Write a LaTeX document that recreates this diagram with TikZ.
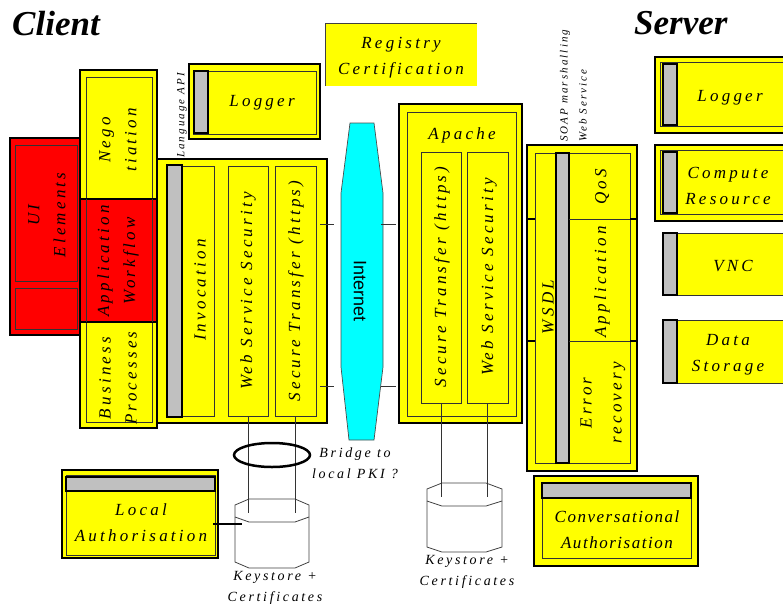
\documentclass[tikz,border=0pt]{standalone}
\usepackage{fontspec}
\setmainfont{Liberation Serif}
\newfontfamily\spf[LetterSpace=19]{Liberation Serif}
\newfontfamily\spn[LetterSpace=9]{Liberation Serif}
\newfontfamily\sansf{Liberation Sans}
\usetikzlibrary{fit,shapes.geometric}
\definecolor{barg}{HTML}{C0C0C0}
\definecolor{cy}{RGB}{0,255,255}
\definecolor{yl}{RGB}{255,255,0}
\definecolor{rd}{RGB}{255,0,0}
\tikzset{
  yb/.style={draw=black, fill=yl, line width=2.5pt, inner sep=0pt, outer sep=0pt},
  rb/.style={draw=black, fill=rd, line width=2.5pt, inner sep=0pt, outer sep=0pt},
  tb/.style={draw=black!80, line width=0.7pt, inner sep=0pt, outer sep=0pt},
  tyb/.style={tb, fill=yl},
  gb/.style={draw=black, fill=barg, line width=2pt, inner sep=0pt, outer sep=0pt},
  lbl/.style={font=\spf\itshape\fontsize{17}{26}\selectfont, align=center, inner sep=0pt},
  nlbl/.style={font=\spn\itshape\fontsize{17}{26}\selectfont, align=center, inner sep=0pt},
  slbl/.style={font=\spf\itshape\fontsize{14}{21}\selectfont, align=center, inner sep=0pt},
  tiny/.style={font=\spf\itshape\fontsize{11}{12}\selectfont, inner sep=0pt},
  ttl/.style={font=\bfseries\itshape\fontsize{35}{38}\selectfont, inner sep=0pt},
  thinln/.style={draw=black!80, line width=0.7pt},
  ksln/.style={draw=black!75, line width=0.8pt},
}
\begin{document}
\begin{tikzpicture}[x=1pt,y=-1pt]
\useasboundingbox (0,0) rectangle (783,608);
\clip (0,0) rectangle (783,608);

% titles
\node[ttl, anchor=base west] (tclient) at (12,35) {Client};
\node[ttl, anchor=base west] (tserver) at (634,34) {Server};

% Registry Certification
\node[fill=yl, inner sep=0pt, outer sep=0pt, fit={(325,23)(477,86)}] (reg) {};
\draw[line width=1pt, black!75] (reg.south west) -- (reg.north west) -- (reg.north east);
\node[lbl] (regt) at (401,58) {Registry\\Certification};

% Client logger
\node[yb, fit={(189,64)(320,139)}] (clog) {};
\node[tb, fit={(193,71)(316,134)}] (clogin) {};
\node[gb, fit={(194,71)(208,133)}] (clogbar) {};
\node[lbl] (clogt) at (262,103) {Logger};
\node[tiny, rotate=90, anchor=west] (langapi) at (182,158) {Language API};

% UI elements
\node[rb, fit={(10,138)(80,335)}] (ui) {};
\node[tb, fit={(15,145)(77,281)}] (uiin1) {};
\node[tb, fit={(15,288)(77,329)}] (uiin2) {};
\node[lbl, rotate=90] (uit) at (47,215) {UI\\Elements};

% left column
\node[yb, fit={(80,70)(157,428)}] (lcol) {};
\node[tb, fit={(86,77)(152,422)}] (lcolin) {};
\node[rb, fit={(80,199)(157,322)}] (awf) {};
\draw[thinln] (lcolin.west |- awf.north) -- (lcolin.west |- awf.south);
\draw[thinln] (lcolin.east |- awf.north) -- (lcolin.east |- awf.south);
\node[lbl, rotate=90] (negot) at (118,140) {Nego\\tiation};
\node[lbl, rotate=90] (awft) at (118,261) {Application\\Workflow};
\node[lbl, rotate=90] (bpt) at (118,378) {Business\\Processes};

% client main
\node[yb, fit={(157,159)(327,423)}] (cmain) {};
\node[tb, fit={(182,166)(214,416)}] (inv) {};
\node[tb, fit={(228,166)(268,416)}] (cwss) {};
\node[tb, fit={(275,166)(316,416)}] (cst) {};
\node[gb, fit={(167,165)(182,417)}] (cbar) {};
\node[lbl, rotate=90] (invt) at (200,290) {Invocation};
\node[lbl, rotate=90] (cwsst) at (248,291) {Web Service Security};
\node[lbl, rotate=90] (cstt) at (296,291) {Secure Transfer (https)};

% Internet
\draw[fill=cy, draw=black!70, line width=0.7pt] (350,123) -- (374,123) -- (383,193) -- (383,367) -- (374,440) -- (349,440) -- (341,367) -- (341,193) -- cycle;
\node[rotate=-90, font=\sansf\fontsize{18}{20}\selectfont, inner sep=0pt] (inet) at (360,291) {Internet};
\coordinate (t1a) at (320,224); \coordinate (t1b) at (334,224);
\coordinate (t2a) at (320,386); \coordinate (t2b) at (334,386);
\coordinate (t3a) at (381,224); \coordinate (t3b) at (396,224);
\coordinate (t4a) at (381,386); \coordinate (t4b) at (396,386);
\draw[thinln] (t1a) -- (t1b); \draw[thinln] (t2a) -- (t2b);
\draw[thinln] (t3a) -- (t3b); \draw[thinln] (t4a) -- (t4b);

% Apache
\node[yb, fit={(399,104)(522,423)}] (apache) {};
\node[tb, fit={(407,112)(516,416)}] (apin) {};
\node[tb, fit={(421,152)(461,403)}] (ast) {};
\node[tb, fit={(467,152)(508,403)}] (awss) {};
\node[lbl] (apt) at (462,135) {Apache};
\node[lbl, rotate=90] (astt) at (442,277) {Secure Transfer (https)};
\node[lbl, rotate=90] (awsst) at (489,277) {Web Service Security};

% WSDL
\node[yb, fit={(527,145)(637,471)}] (wsdl) {};
\node[tb, fit={(535,153)(630,463)}] (wsdlin) {};
\node[gb, fit={(556,153)(569,463)}] (wbar) {};
\draw[thinln] (569,219) -- (630,219);
\draw[thinln] (569,341) -- (630,341);
\draw[line width=2.5pt] (527,219) -- (535,219);
\draw[line width=2.5pt] (630,219) -- (637,219);
\draw[line width=2.5pt] (527,341) -- (535,341);
\draw[line width=2.5pt] (630,341) -- (637,341);
\node[lbl, rotate=90] (wsdlt) at (548,307) {WSDL};
\node[lbl, rotate=90] (qost) at (602,187) {QoS};
\node[lbl, rotate=90] (sappt) at (602,282) {Application};
\node[lbl, rotate=90, font=\spf\itshape\fontsize{17}{30}\selectfont] (errt) at (603,403) {Error\\recovery};
\node[tiny, rotate=90, anchor=west] (soap1) at (565,142) {SOAP marshalling};
\node[tiny, rotate=90, anchor=west] (soap2) at (583,142) {Web Service};

% Server right column
\node[yb, fit={(655,57)(800,133)}] (slog) {};
\node[tb, fit={(660,62)(800,126)}] (slogin) {};
\node[gb, fit={(663,64)(677,125)}] (slogbar) {};
\node[lbl] (slogt) at (730,98) {Logger};

\node[yb, fit={(655,145)(800,221)}] (comp) {};
\node[tb, fit={(660,150)(800,214)}] (compin) {};
\node[gb, fit={(663,152)(677,213)}] (compbar) {};
\node[lbl] (compt) at (728,186) {Compute\\Resource};

\node[tyb, fit={(663,233)(800,295)}] (vnc) {};
\node[gb, fit={(663,233)(677,295)}] (vncbar) {};
\node[lbl] (vnct) at (733,266) {VNC};

\node[tyb, fit={(663,320)(800,383)}] (data) {};
\node[gb, fit={(663,320)(677,383)}] (databar) {};
\node[lbl] (datat) at (728,355) {Data\\Storage};

% Keystores
\draw[ksln, fill=white] (235,505) -- (249,499) -- (295,499) -- (309,505) -- (309,562) -- (295,568) -- (249,568) -- (235,562) -- cycle;
\draw[ksln] (235,517) -- (249,522) -- (295,522) -- (309,517);
\coordinate (ks1a) at (248,513);
\coordinate (ks1b) at (296,513);
\draw[ksln, fill=white] (427,489) -- (442,483) -- (486,483) -- (502,489) -- (502,547) -- (486,552) -- (442,552) -- (427,547) -- cycle;
\draw[ksln] (427,501) -- (442,506) -- (486,506) -- (502,501);
\coordinate (ks2a) at (441,497);
\coordinate (ks2b) at (488,497);

\draw[thinln] (cwss.south) -- (cwss.south |- ks1a);
\draw[thinln] (cst.south) -- (cst.south |- ks1b);
\draw[thinln] (ast.south) -- (ast.south |- ks2a);
\draw[thinln] (awss.south) -- (awss.south |- ks2b);

\node[draw, line width=2.5pt, ellipse, minimum width=76pt, minimum height=24pt, inner sep=0pt] (bridge) at (272,455) {};
\node[slbl] (bridget) at (355,463) {Bridge to\\local PKI ?};
\node[slbl] (ks1t) at (275,588) {Keystore +\\Certificates};
\node[slbl] (ks2t) at (467,572) {Keystore +\\Certificates};

% Local Authorisation
\node[yb, fit={(62,470)(218,558)}] (la) {};
\node[tb, fit={(66,475)(215,555)}] (lain) {};
\node[gb, fit={(66,477)(215,491)}] (labar) {};
\node[lbl] (lat) at (141,523) {Local\\Authorisation};
\coordinate (lacon) at (242,524);
\draw[line width=2.5pt] (la.east |- lacon) ++(-5,0) -- (lacon);

% Conversational Authorisation
\node[yb, fit={(534,476)(698,566)}] (ca) {};
\node[tb, fit={(542,483)(691,558)}] (cain) {};
\node[gb, fit={(542,483)(691,498)}] (cabar) {};
\node[nlbl] (cat) at (617,530) {Conversational\\Authorisation};
\end{tikzpicture}
\end{document}
